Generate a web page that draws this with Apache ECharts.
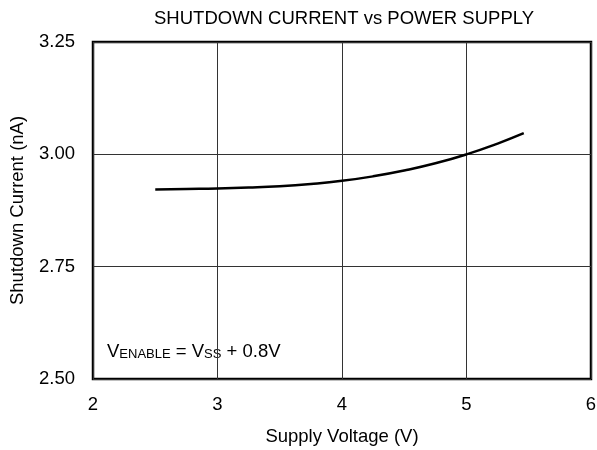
<!DOCTYPE html>
<html>
<head>
<meta charset="utf-8">
<script src="https://cdn.jsdelivr.net/npm/echarts@6/dist/echarts.min.js"></script>
<style>
  html, body { margin: 0; padding: 0; background: #fff; }
  #main { width: 597px; height: 450px; }
</style>
</head>
<body>
<div id="main"></div>
<script>
// 数据：电源电压 (V) 与关断电流 (nA)
const voltage = [2.5, 2.75, 3.0, 3.25, 3.5, 3.75, 4.0, 4.25, 4.5, 4.75, 5.0, 5.25, 5.46]
const current = [2.922, 2.923, 2.924, 2.926, 2.929, 2.934, 2.941, 2.951, 2.964, 2.980, 3.000, 3.024, 3.047]
const xTicks = [2, 6, 1]          // min, max, interval
const yTicks = [2.5, 3.25, 0.25]  // min, max, interval

const font = 'Liberation Sans, Arial, sans-serif'
const fs = 18.5

const dom = document.getElementById('main')
const myChart = echarts.init(dom)

const option = {
  animation: false,
  title: {
    text: 'SHUTDOWN CURRENT vs POWER SUPPLY',
    left: 339,
    textAlign: 'center',
    top: 4,
    textStyle: { fontFamily: font, fontSize: fs, fontWeight: 'normal', color: '#000' }
  },
  grid: {
    left: 93, right: 6, top: 42, bottom: 71,
    outerBoundsMode: 'none', containLabel: false,
    show: true, borderColor: '#000', borderWidth: 2.5
  },
  xAxis: {
    type: 'value',
    min: xTicks[0], max: xTicks[1], interval: xTicks[2],
    name: 'Supply Voltage (V)',
    nameLocation: 'middle',
    nameGap: 48,
    nameTextStyle: { fontFamily: font, fontSize: fs, color: '#000' },
    axisLine: { show: false },
    axisTick: { show: false },
    axisLabel: { fontFamily: font, fontSize: fs, color: '#000', margin: 16 },
    splitLine: { show: true, lineStyle: { color: '#333', width: 1 } }
  },
  yAxis: {
    type: 'value',
    min: yTicks[0], max: yTicks[1], interval: yTicks[2],
    name: 'Shutdown Current (nA)',
    nameLocation: 'middle',
    nameGap: 66,
    nameTextStyle: { fontFamily: font, fontSize: fs, color: '#000' },
    axisLine: { show: false },
    axisTick: { show: false },
    axisLabel: { fontFamily: font, fontSize: fs, color: '#000', margin: 18, formatter: v => v.toFixed(2) },
    splitLine: { show: true, lineStyle: { color: '#333', width: 1 } }
  },
  graphic: [
    {
      type: 'text',
      left: 107,
      top: 342,
      style: {
        text: '{n|V}{s|ENABLE}{n| = V}{s|SS}{n| + 0.8V}',
        rich: {
          n: { fontFamily: font, fontSize: fs, color: '#000', verticalAlign: 'bottom', lineHeight: 24 },
          s: { fontFamily: font, fontSize: 13, color: '#000', verticalAlign: 'bottom', lineHeight: 18 }
        }
      }
    }
  ],
  series: [
    {
      type: 'line',
      data: voltage.map((v, i) => [v, current[i]]),
      smooth: true,
      showSymbol: false,
      lineStyle: { color: '#000', width: 2.5 }
    }
  ]
}

myChart.setOption(option)
</script>
</body>
</html>
